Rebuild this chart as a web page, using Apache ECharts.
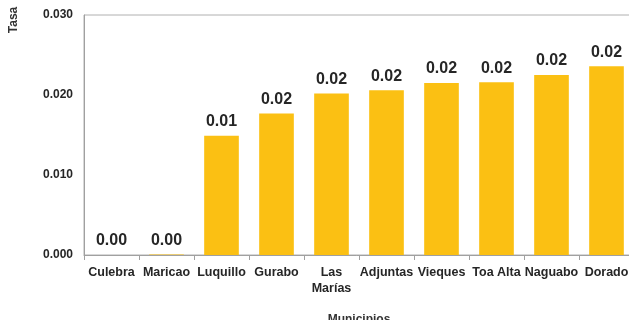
<!DOCTYPE html>
<html>
<head>
<meta charset="utf-8">
<script src="https://cdn.jsdelivr.net/npm/echarts@6/dist/echarts.min.js"></script>
<style>
  html, body { margin: 0; padding: 0; background: #ffffff; }
  #chart { width: 629px; height: 320px; }
</style>
</head>
<body>
<div id="chart"></div>
<script>
// Municipalities and their rates
const municipios = ['Culebra', 'Maricao', 'Luquillo', 'Gurabo', 'Las\nMarías', 'Adjuntas', 'Vieques', 'Toa Alta', 'Naguabo', 'Dorado'];
const tasa = [0.0000, 0.00005, 0.0149, 0.0177, 0.0202, 0.0206, 0.0215, 0.0216, 0.0225, 0.0236];
const yTicks = { min: 0, max: 0.03, interval: 0.01 };

const font = 'Liberation Sans, Arial, sans-serif';

const chart = echarts.init(document.getElementById('chart'), null, { renderer: 'canvas' });
chart.setOption({
  animation: false,
  backgroundColor: '#ffffff',
  grid: {
    left: 84, top: 15, width: 550, height: 240,
    containLabel: false,
    outerBoundsMode: 'none',
    show: true, borderColor: '#b0b0b0', borderWidth: 1, backgroundColor: 'transparent'
  },
  xAxis: {
    type: 'category',
    data: municipios,
    name: 'Municipios',
    nameLocation: 'middle',
    nameGap: 59,
    nameTextStyle: { fontFamily: font, fontWeight: 'bold', fontSize: 12, color: '#333333' },
    axisLine: { lineStyle: { color: '#a0a0a0', width: 1 } },
    axisTick: { show: true, length: 5, lineStyle: { color: '#a0a0a0' } },
    axisLabel: {
      interval: 0, margin: 10, lineHeight: 16,
      fontFamily: font, fontWeight: 'bold', fontSize: 12.5, color: '#262626'
    }
  },
  yAxis: {
    type: 'value',
    min: yTicks.min, max: yTicks.max, interval: yTicks.interval,
    axisLine: { show: true, lineStyle: { color: '#a0a0a0', width: 1 } },
    axisTick: { show: false },
    splitLine: { show: false },
    axisLabel: {
      margin: 11,
      fontFamily: font, fontWeight: 'bold', fontSize: 12, color: '#262626',
      formatter: v => v.toFixed(3)
    }
  },
  graphic: [{
    // rotated y-axis title
    type: 'text',
    x: 14, y: 20,
    rotation: Math.PI / 2,
    style: {
      text: 'Tasa',
      fontFamily: font, fontWeight: 'bold', fontSize: 12, fill: '#333333',
      textAlign: 'center', textVerticalAlign: 'middle'
    }
  }],
  series: [{
    type: 'bar',
    data: tasa,
    barWidth: '63%',
    itemStyle: { color: '#FBC013' },
    label: {
      show: true,
      position: 'top',
      distance: 6,
      fontFamily: font, fontWeight: 'bold', fontSize: 16, color: '#262626',
      formatter: p => p.value.toFixed(2)
    }
  }]
});
</script>
</body>
</html>
